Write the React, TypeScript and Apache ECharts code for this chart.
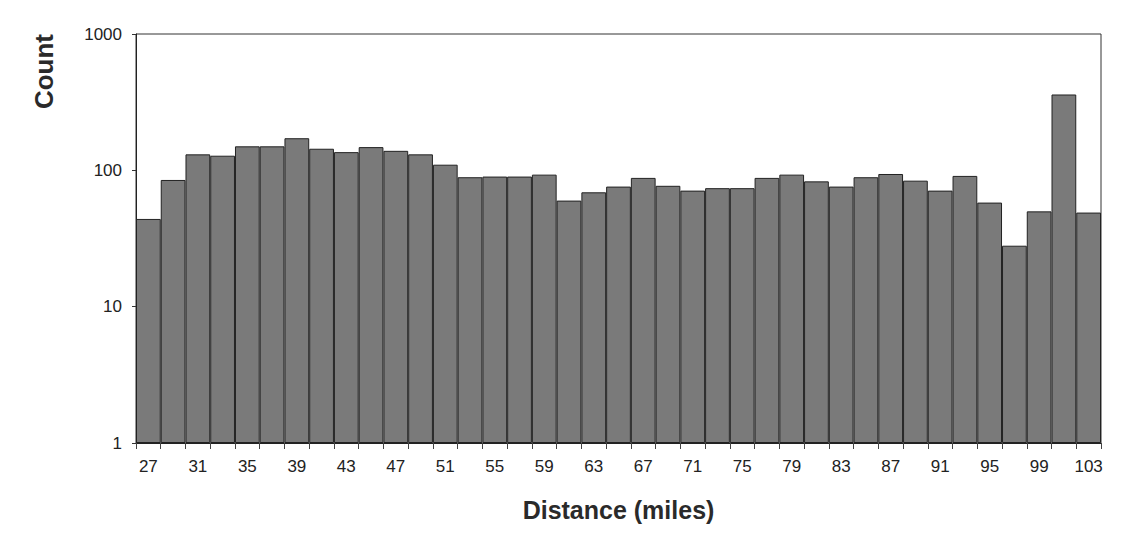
import React, { useEffect, useRef } from "react";
import * as echarts from "echarts";

const distances: number[] = [27, 29, 31, 33, 35, 37, 39, 41, 43, 45, 47, 49, 51, 53, 55, 57, 59, 61, 63, 65, 67, 69, 71, 73, 75, 77, 79, 81, 83, 85, 87, 89, 91, 93, 95, 97, 99, 101, 103];
const counts: number[] = [44, 85, 131, 128, 150, 150, 172, 144, 136, 148, 139, 131, 110, 89, 90, 90, 93, 60, 69, 76, 88, 77, 71, 74, 74, 88, 93, 83, 76, 89, 94, 84, 71, 91, 58, 28, 50, 360, 49];

const FONT = "Liberation Sans, Arial, sans-serif";

export default function App() {
  const ref = useRef<HTMLDivElement>(null);
  useEffect(() => {
    if (!ref.current) return;
    const chart = echarts.init(ref.current, undefined, { renderer: "svg" });
    chart.setOption({
      animation: false,
      backgroundColor: "#ffffff",
      grid: {
        left: 136,
        right: 34,
        top: 34,
        bottom: 101,
        show: true,
        borderColor: "#333333",
        borderWidth: 1,
        backgroundColor: "transparent",
      },
      xAxis: {
        type: "category",
        data: distances.map(String),
        boundaryGap: true,
        name: "Distance (miles)",
        nameLocation: "middle",
        nameGap: 54,
        nameTextStyle: { fontFamily: FONT, fontSize: 25, fontWeight: "bold", color: "#2a2a2a" },
        axisLine: { show: true, lineStyle: { color: "#222222", width: 1 } },
        axisTick: { show: true, interval: 0, length: 6, lineStyle: { color: "#444444" } },
        axisLabel: {
          interval: 1,
          margin: 15,
          fontFamily: FONT,
          fontSize: 17,
          color: "#222222",
        },
        splitLine: { show: false },
      },
      yAxis: {
        type: "log",
        logBase: 10,
        min: 1,
        max: 1000,
        name: "Count",
        nameLocation: "end",
        nameRotate: 90,
        nameGap: 0,
        nameTextStyle: {
          fontFamily: FONT,
          fontSize: 26,
          fontWeight: "bold",
          color: "#2a2a2a",
          align: "right",
          verticalAlign: "bottom",
          padding: [0, 0, 79, 0],
        },
        axisLine: { show: true, lineStyle: { color: "#222222", width: 1 } },
        axisTick: { show: true, length: 4, lineStyle: { color: "#333333" } },
        minorTick: { show: false },
        axisLabel: {
          margin: 14,
          fontFamily: FONT,
          fontSize: 17,
          color: "#222222",
          formatter: (v: number) => String(v),
        },
        splitLine: { show: false },
      },
      series: [
        {
          type: "bar",
          data: counts,
          barWidth: "100%",
          barGap: "0%",
          barCategoryGap: "0%",
          itemStyle: {
            color: "#7a7a7a",
            borderColor: "#222222",
            borderWidth: 1,
          },
        },
      ],
    });
    return () => chart.dispose();
  }, []);
  return <div ref={ref} style={{ width: 1135, height: 544, position: "absolute", left: 0, top: 0 }} />;
}
